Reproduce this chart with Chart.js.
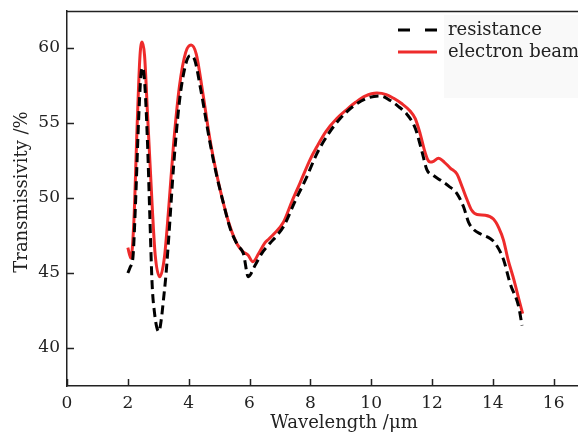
<!DOCTYPE html>
<html>
<head>
<meta charset="utf-8">
<script src="https://cdn.jsdelivr.net/npm/chart.js@4.4.1/dist/chart.umd.min.js"></script>
<style>
  html, body { margin: 0; padding: 0; background: #fff; }
  #wrap { width: 578px; height: 432px; position: relative; }
</style>
</head>
<body>
<div id="wrap"><canvas id="chart"></canvas></div>
<script>
// wavelength (um) / transmissivity (%)
const beamX = [2.0, 2.1, 2.2, 2.3, 2.4, 2.47, 2.55, 2.65, 2.8, 2.9, 3.05, 3.2, 3.35, 3.5, 3.7, 3.9, 4.08, 4.25, 4.45, 4.7,
  4.92, 5.1, 5.36, 5.6, 5.8, 5.95, 6.11, 6.3, 6.5, 6.6, 6.8, 7.12, 7.4, 7.66, 8.0, 8.21, 8.5, 8.87, 9.2, 9.5,
  9.8, 10.19, 10.5, 10.74, 11.0, 11.28, 11.45, 11.61, 11.75, 11.85, 11.94, 12.05, 12.21, 12.4, 12.6, 12.82, 13.0, 13.15, 13.3, 13.48,
  13.75, 14.02, 14.2, 14.35, 14.5, 14.7, 14.85, 14.98];
const beamY = [46.7, 46.0, 48.5, 54.5, 59.5, 60.4, 59.5, 55.5, 49.5, 46.2, 44.75, 46.0, 49.5, 53.5, 57.5, 59.7, 60.2, 59.6, 57.2, 53.9,
  51.6, 50.0, 48.1, 46.9, 46.4, 46.2, 45.75, 46.3, 47.0, 47.2, 47.6, 48.4, 49.8, 51.0, 52.6, 53.4, 54.4, 55.3, 55.9, 56.4,
  56.8, 57.0, 56.9, 56.65, 56.3, 55.8, 55.3, 54.3, 53.2, 52.6, 52.4, 52.45, 52.65, 52.4, 52.0, 51.6, 50.7, 49.9, 49.2, 48.9,
  48.85, 48.6, 48.0, 47.2, 45.9, 44.5, 43.3, 42.3];

const resX = [2.0, 2.08, 2.17, 2.25, 2.35, 2.43, 2.49, 2.56, 2.65, 2.72, 2.8, 2.88, 2.95, 3.02, 3.1, 3.17, 3.25, 3.35, 3.5, 3.7,
  3.9, 4.05, 4.2, 4.4, 4.7, 4.92, 5.1, 5.36, 5.6, 5.8, 5.96, 6.18, 6.4, 6.68, 6.9, 7.12, 7.5, 7.88, 8.2, 8.6,
  8.98, 9.4, 9.86, 10.3, 10.63, 10.9, 11.17, 11.45, 11.67, 11.83, 12.05, 12.27, 12.55, 12.82, 13.04, 13.2, 13.37, 13.6, 13.91, 14.08,
  14.35, 14.57, 14.85, 14.96];
const resY = [45.0, 45.4, 46.1, 49.5, 55.0, 58.2, 58.7, 57.5, 53.5, 49.0, 44.2, 42.3, 41.4, 41.1, 41.9, 43.2, 44.8, 47.5, 52.0, 56.5,
  58.9, 59.5, 59.2, 57.2, 53.7, 51.5, 50.0, 48.0, 46.9, 46.3, 44.75, 45.5, 46.3, 47.0, 47.5, 48.1, 49.8, 51.4, 52.9, 54.3,
  55.3, 56.1, 56.65, 56.8, 56.5, 56.1, 55.6, 54.65, 53.1, 51.9, 51.5, 51.2, 50.8, 50.3, 49.4, 48.4, 47.9, 47.6, 47.3, 46.98,
  45.9, 44.3, 42.75, 41.5];

const xTicks = [0, 2, 4, 6, 8, 10, 12, 14, 16];
const yTicks = [40, 45, 50, 55, 60];
const seriesNames = ["resistance", "electron beam"];
const xTitle = "Wavelength /\u03bcm";
const yTitle = "Transmissivity /%";

const SERIF = "'DejaVu Serif', serif";
const INK = "#222";
const RED = "#ee2b2b";

function points(xs, ys) {
  return xs.map((x, i) => ({ x, y: ys[i] }));
}

// inward tick marks, top frame line, axis titles and the legend
const decor = {
  id: "decor",
  afterDraw(chart) {
    const ctx = chart.ctx;
    const area = chart.chartArea;
    const sx = chart.scales.x;
    const sy = chart.scales.y;
    ctx.save();
    ctx.strokeStyle = INK;
    ctx.lineWidth = 1.5;
    ctx.beginPath();
    for (const v of xTicks) {
      const px = Math.round(sx.getPixelForValue(v)) + 0.5;
      ctx.moveTo(px, area.bottom);
      ctx.lineTo(px, area.bottom - 7);
    }
    for (const v of yTicks) {
      const py = Math.round(sy.getPixelForValue(v)) + 0.5;
      ctx.moveTo(area.left, py);
      ctx.lineTo(area.left + 7, py);
    }
    ctx.moveTo(area.left, area.top + 0.5);
    ctx.lineTo(area.right, area.top + 0.5);
    ctx.stroke();

    ctx.fillStyle = INK;
    ctx.font = "18px " + SERIF;
    ctx.textAlign = "center";
    ctx.textBaseline = "alphabetic";
    ctx.fillText(xTitle, 344, 428);

    ctx.save();
    ctx.translate(27, 192);
    ctx.rotate(-Math.PI / 2);
    ctx.fillText(yTitle, 0, 0);
    ctx.restore();

    // legend
    ctx.fillStyle = "#f9f9f9";
    ctx.fillRect(444, 15, 134, 83);
    const rows = [30, 52];
    chart.data.datasets.forEach((ds, i) => {
      const y = rows[i];
      ctx.strokeStyle = ds.borderColor;
      ctx.lineWidth = ds.borderWidth;
      ctx.setLineDash(ds.borderDash && ds.borderDash.length ? [12, 15] : []);
      ctx.beginPath();
      ctx.moveTo(398, y);
      ctx.lineTo(437, y);
      ctx.stroke();
      ctx.setLineDash([]);
      ctx.fillStyle = INK;
      ctx.textAlign = "left";
      ctx.textBaseline = "middle";
      ctx.fillText(ds.label, 448, y);
    });
    ctx.restore();
  }
};

new Chart(document.getElementById("chart").getContext("2d"), {
  type: "line",
  data: {
    datasets: [
      {
        label: seriesNames[0],
        data: points(resX, resY),
        borderColor: "#000",
        borderWidth: 3,
        borderDash: [9, 5],
        pointRadius: 0,
        cubicInterpolationMode: "monotone",
        fill: false
      },
      {
        label: seriesNames[1],
        data: points(beamX, beamY),
        borderColor: RED,
        borderWidth: 3,
        pointRadius: 0,
        cubicInterpolationMode: "monotone",
        fill: false
      }
    ]
  },
  options: {
    responsive: true,
    maintainAspectRatio: false,
    animation: false,
    layout: { padding: { top: 11, right: 0, left: 0, bottom: 0 } },
    plugins: { legend: { display: false }, tooltip: { enabled: false } },
    scales: {
      x: {
        type: "linear",
        min: 0,
        max: 16.8,
        grid: { display: false, drawTicks: false },
        border: { display: true, color: INK, width: 1.5 },
        ticks: { font: { family: SERIF, size: 17 }, color: INK, padding: 7, maxRotation: 0 },
        afterBuildTicks(scale) { scale.ticks = xTicks.map((v) => ({ value: v })); },
        afterFit(scale) { scale.height = 46; scale.paddingLeft = 0; scale.paddingRight = 0; }
      },
      y: {
        type: "linear",
        min: 37.47,
        max: 62.47,
        grid: { display: false, drawTicks: false },
        border: { display: true, color: INK, width: 1.5 },
        ticks: { font: { family: SERIF, size: 17 }, color: INK, padding: 7 },
        afterBuildTicks(scale) { scale.ticks = yTicks.map((v) => ({ value: v })); },
        afterFit(scale) { scale.width = 67; scale.paddingTop = 0; scale.paddingBottom = 0; }
      }
    }
  },
  plugins: [decor]
});
</script>
</body>
</html>
